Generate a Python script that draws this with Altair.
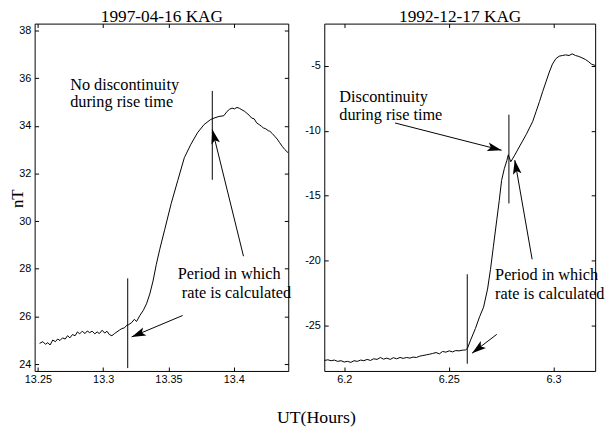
import math
import altair as alt
import pandas as pd

# ---------------- data ----------------
LEFT_TITLE = "1997-04-16 KAG"
RIGHT_TITLE = "1992-12-17 KAG"
X_TITLE = "UT(Hours)"
Y_TITLE = "nT"

left_t = [13.2513, 13.2538, 13.2558, 13.2576, 13.2593, 13.2614, 13.2634, 13.2651, 13.2669, 13.2689,
          13.2709, 13.2727, 13.2745, 13.2765, 13.2785, 13.2803, 13.2820, 13.2840, 13.2861, 13.2878,
          13.2896, 13.2916, 13.2936, 13.2954, 13.2971, 13.2992, 13.3012, 13.3029, 13.3047, 13.3067,
          13.3087, 13.3105, 13.3123, 13.3143, 13.3163, 13.3181, 13.3193, 13.3218, 13.3239, 13.3256,
          13.3281, 13.3307, 13.3332, 13.3357, 13.3382, 13.3407, 13.3433, 13.3471, 13.3521, 13.3571,
          13.3622, 13.3672, 13.3722, 13.3773, 13.3823, 13.3849, 13.3887, 13.3924, 13.3949, 13.3968,
          13.3987, 13.4006, 13.4025, 13.4044, 13.4063, 13.4082, 13.4100, 13.4119, 13.4138, 13.4157,
          13.4176, 13.4195, 13.4214, 13.4227, 13.4246, 13.4265, 13.4277, 13.4296, 13.4314, 13.4333,
          13.4352, 13.4371, 13.4390, 13.4416]
left_b = [24.87, 24.94, 24.83, 24.90, 24.80, 25.01, 24.94, 25.05, 24.99, 25.10,
          25.05, 25.19, 25.10, 25.24, 25.19, 25.35, 25.27, 25.38, 25.28, 25.39,
          25.32, 25.38, 25.27, 25.35, 25.28, 25.42, 25.30, 25.38, 25.24, 25.19,
          25.28, 25.35, 25.42, 25.49, 25.52, 25.63, 25.65, 25.74, 25.88, 25.79,
          26.04, 26.25, 26.53, 26.94, 27.49, 28.18, 28.81, 29.64, 30.74, 31.70,
          32.67, 33.23, 33.71, 34.06, 34.27, 34.33, 34.40, 34.43, 34.61, 34.70,
          34.75, 34.72, 34.78, 34.74, 34.68, 34.62, 34.54, 34.45, 34.33, 34.30,
          34.13, 34.06, 33.98, 33.92, 33.88, 33.80, 33.78, 33.68, 33.57, 33.45,
          33.30, 33.15, 33.02, 32.88]

right_t = [6.1906, 6.1922, 6.1938, 6.1953, 6.1969, 6.1985, 6.2000, 6.2016, 6.2032, 6.2047,
           6.2063, 6.2079, 6.2094, 6.2110, 6.2126, 6.2141, 6.2157, 6.2173, 6.2188, 6.2204,
           6.2220, 6.2235, 6.2251, 6.2267, 6.2282, 6.2298, 6.2314, 6.2329, 6.2345, 6.2361,
           6.2376, 6.2392, 6.2408, 6.2423, 6.2439, 6.2455, 6.2470, 6.2486, 6.2502, 6.2517,
           6.2533, 6.2549, 6.2564, 6.2580, 6.2589, 6.2604, 6.2627, 6.2647, 6.2666, 6.2685,
           6.2699, 6.2713, 6.2729, 6.2741, 6.2752, 6.2765, 6.2777, 6.2784, 6.2796, 6.2813,
           6.2839, 6.2870, 6.2901, 6.2917, 6.2933, 6.2948, 6.2964, 6.2980, 6.2995, 6.3011,
           6.3027, 6.3042, 6.3058, 6.3074, 6.3089, 6.3105, 6.3121, 6.3136, 6.3152, 6.3168,
           6.3183, 6.3199]
right_b = [-27.69, -27.64, -27.71, -27.66, -27.76, -27.71, -27.81, -27.76, -27.84, -27.71,
           -27.76, -27.66, -27.71, -27.61, -27.69, -27.56, -27.61, -27.46, -27.59, -27.51,
           -27.61, -27.48, -27.56, -27.46, -27.53, -27.46, -27.51, -27.43, -27.46, -27.36,
           -27.31, -27.26, -27.21, -27.15, -27.08, -27.18, -27.00, -27.05, -26.95, -27.03,
           -26.93, -26.95, -26.90, -26.88, -26.75, -26.12, -25.23, -24.32, -23.58, -22.19,
           -20.67, -18.89, -16.86, -15.34, -13.82, -12.91, -12.30, -11.84, -12.38, -11.92,
           -11.16, -10.27, -9.26, -8.50, -7.74, -6.98, -6.22, -5.46, -4.85, -4.44,
           -4.24, -4.19, -4.14, -4.19, -4.06, -4.19, -4.26, -4.37, -4.49, -4.67,
           -4.87, -4.95]

left_xticks = [13.25, 13.3, 13.35, 13.4]
left_yticks = [24, 26, 28, 30, 32, 34, 36, 38]
right_xticks = [6.2, 6.25, 6.3]
right_yticks = [-25, -20, -15, -10, -5]

left_xdom = [13.2475, 13.4418]
left_ydom = [23.71, 38.30]
right_xdom = [6.1905, 6.3199]
right_ydom = [-28.50, -1.73]

left_marker_t = [13.3188, 13.3836]
left_marker_lo = [23.83, 31.74]
left_marker_hi = [27.60, 35.47]
right_marker_t = [6.2588, 6.2787]
right_marker_lo = [-27.94, -15.59]
right_marker_hi = [-21.05, -8.75]

left_arrow_t0 = [13.3609, 13.4075]
left_arrow_b0 = [26.04, 28.53]
left_arrow_t1 = [13.3218, 13.3836]
left_arrow_b1 = [25.14, 33.85]
right_arrow_t0 = [6.2243, 6.2898, 6.2729]
right_arrow_b0 = [-9.39, -19.90, -25.68]
right_arrow_t1 = [6.2752, 6.2815, 6.2611]
right_arrow_b1 = [-11.49, -12.25, -27.13]

left_labels = ["No discontinuity", "during rise time", "Period in which", "rate is calculated"]
left_label_t = [13.2747, 13.2747, 13.3571, 13.3602]
left_label_b = [35.52, 34.80, 27.56, 26.78]
right_labels = ["Discontinuity", "during rise time", "Period in which", "rate is calculated"]
right_label_t = [6.1977, 6.1977, 6.2721, 6.2721]
right_label_b = [-7.74, -9.15, -21.50, -22.97]

# ---------------- layout / style ----------------
W, H = 568, 352
LEFT_RANGE = [0, 257]
RIGHT_RANGE = [293.5, 568]
SERIF = "Liberation Serif"
SANS = "Liberation Sans"
TICK = 4
ARROW_PATH = "M0,0L0.55,1.8L0,1.4L-0.55,1.8Z"


def heads(t0, b0, t1, b1, xdom, ydom, xr):
    sx = (xr[1] - xr[0]) / (xdom[1] - xdom[0])
    sy = H / (ydom[1] - ydom[0])
    angs = []
    for a, b, c, d in zip(t0, b0, t1, b1):
        dx = (c - a) * sx
        dy = -(d - b) * sy
        angs.append(math.degrees(math.atan2(dx, -dy)) % 360)
    return pd.DataFrame({"t0": t0, "b0": b0, "t1": t1, "b1": b1, "ang": angs})


def panel(t, b, xticks, yticks, xdom, ydom, xr, mk_t, mk_lo, mk_hi,
          ar_t0, ar_b0, ar_t1, ar_b1, lab, lab_t, lab_b, title, is_left):
    xs = alt.Scale(domain=xdom, range=xr, nice=False, zero=False)
    ys = alt.Scale(domain=ydom, range=[H, 0], nice=False, zero=False)
    left_off = -xr[0]
    right_off = -(W - xr[1])
    common = dict(grid=False, labelFont=SANS, labelFontSize=11, labelColor="black",
                  titleFont=SERIF, titleFontWeight="normal", titleColor="black")

    # main axes: frame lines + labels
    if is_left:
        xa = alt.Axis(orient="bottom", values=xticks, labelExpr="toString(datum.value)",
                      domain=True, domainColor="black", domainWidth=1, ticks=False, tickSize=0,
                      labelPadding=3, title=X_TITLE, titleX=285, titleY=52,
                      titleFontSize=18, titleBaseline="alphabetic", titleAlign="center", **common)
        ya = alt.Axis(orient="left", values=yticks, labelExpr="toString(datum.value)",
                      domain=True, domainColor="black", domainWidth=1, ticks=False, tickSize=0,
                      labelPadding=4, offset=left_off, title=Y_TITLE, titleAngle=270,
                      titleX=-12, titleY=177, titleFontSize=17, titleBaseline="alphabetic",
                      titleAlign="center", **common)
    else:
        xa = alt.Axis(orient="bottom", values=xticks, labelExpr="toString(datum.value)",
                      domain=True, domainColor="black", domainWidth=1, ticks=False, tickSize=0,
                      labelPadding=3, title=None, **common)
        ya = alt.Axis(orient="left", values=yticks, labelExpr="toString(datum.value)",
                      domain=True, domainColor="black", domainWidth=1, ticks=False, tickSize=0,
                      labelPadding=4, offset=left_off, title=None, **common)

    df = pd.DataFrame({"t": t, "b": b, "i": list(range(len(t)))})
    line = alt.Chart(df).mark_line(color="black", strokeWidth=1).encode(
        x=alt.X("t:Q", scale=xs, axis=xa),
        y=alt.Y("b:Q", scale=ys, axis=ya),
        order=alt.Order("i:Q"),
    )

    # inward ticks bottom/left
    mk = pd.DataFrame({"t": mk_t, "lo": mk_lo, "hi": mk_hi})
    rules = alt.Chart(mk).mark_rule(color="black", strokeWidth=1).encode(
        x=alt.X("t:Q", scale=xs, axis=alt.Axis(orient="bottom", values=xticks, offset=-TICK,
                                               tickSize=TICK, tickColor="black", labels=False,
                                               domain=False, grid=False, title=None)),
        y=alt.Y("lo:Q", scale=ys, axis=alt.Axis(orient="left", values=yticks,
                                                offset=left_off - TICK, tickSize=TICK,
                                                tickColor="black", labels=False, domain=False,
                                                grid=False, title=None)),
        y2="hi:Q",
    )

    # arrow shafts: top/right frame + panel title
    ar = heads(ar_t0, ar_b0, ar_t1, ar_b1, xdom, ydom, xr)
    shafts = alt.Chart(ar).mark_rule(color="black", strokeWidth=1).encode(
        x=alt.X("t0:Q", scale=xs, axis=alt.Axis(orient="top", values=xticks, domain=True,
                                                domainColor="black", domainWidth=1, ticks=False,
                                                tickSize=0, labels=False, grid=False,
                                                title=title, titleY=-2, titleFont=SERIF,
                                                titleFontSize=17.5, titleFontWeight="normal",
                                                titleColor="black", titleBaseline="alphabetic")),
        y=alt.Y("b0:Q", scale=ys, axis=alt.Axis(orient="right", values=yticks, offset=right_off,
                                                domain=True, domainColor="black", domainWidth=1,
                                                ticks=False, tickSize=0, labels=False,
                                                grid=False, title=None)),
        x2="t1:Q",
        y2="b1:Q",
    )

    # arrow heads: inward ticks top/right
    tips = alt.Chart(ar).mark_point(shape=ARROW_PATH, filled=True, color="black",
                                    opacity=1, size=256, strokeWidth=0).encode(
        x=alt.X("t1:Q", scale=xs, axis=alt.Axis(orient="top", values=xticks, offset=-TICK,
                                                tickSize=TICK, tickColor="black", labels=False,
                                                domain=False, grid=False, title=None)),
        y=alt.Y("b1:Q", scale=ys, axis=alt.Axis(orient="right", values=yticks,
                                                offset=right_off - TICK, tickSize=TICK,
                                                tickColor="black", labels=False, domain=False,
                                                grid=False, title=None)),
        angle=alt.Angle("ang:Q", scale=None),
    )

    tx = pd.DataFrame({"t": lab_t, "b": lab_b, "label": lab})
    texts = alt.Chart(tx).mark_text(align="left", baseline="alphabetic", font=SERIF,
                                    fontSize=16.5, color="black").encode(
        x=alt.X("t:Q", scale=xs, axis=None),
        y=alt.Y("b:Q", scale=ys, axis=None),
        text="label:N",
    )

    return alt.layer(line, rules, shafts, tips, texts).resolve_axis(x="independent", y="independent")


left = panel(left_t, left_b, left_xticks, left_yticks, left_xdom, left_ydom, LEFT_RANGE,
             left_marker_t, left_marker_lo, left_marker_hi,
             left_arrow_t0, left_arrow_b0, left_arrow_t1, left_arrow_b1,
             left_labels, left_label_t, left_label_b, LEFT_TITLE, True)
right = panel(right_t, right_b, right_xticks, right_yticks, right_xdom, right_ydom, RIGHT_RANGE,
              right_marker_t, right_marker_lo, right_marker_hi,
              right_arrow_t0, right_arrow_b0, right_arrow_t1, right_arrow_b1,
              right_labels, right_label_t, right_label_b, RIGHT_TITLE, False)

chart = alt.layer(left, right).resolve_scale(x="independent", y="independent").properties(
    width=W, height=H,
    autosize=alt.AutoSizeParams(type="none"),
    padding={"left": 27, "top": 13, "right": 12, "bottom": 56},
    background="white",
).configure_view(strokeOpacity=0)

chart.save("out.html", embed_options={"renderer": "svg", "actions": False})
